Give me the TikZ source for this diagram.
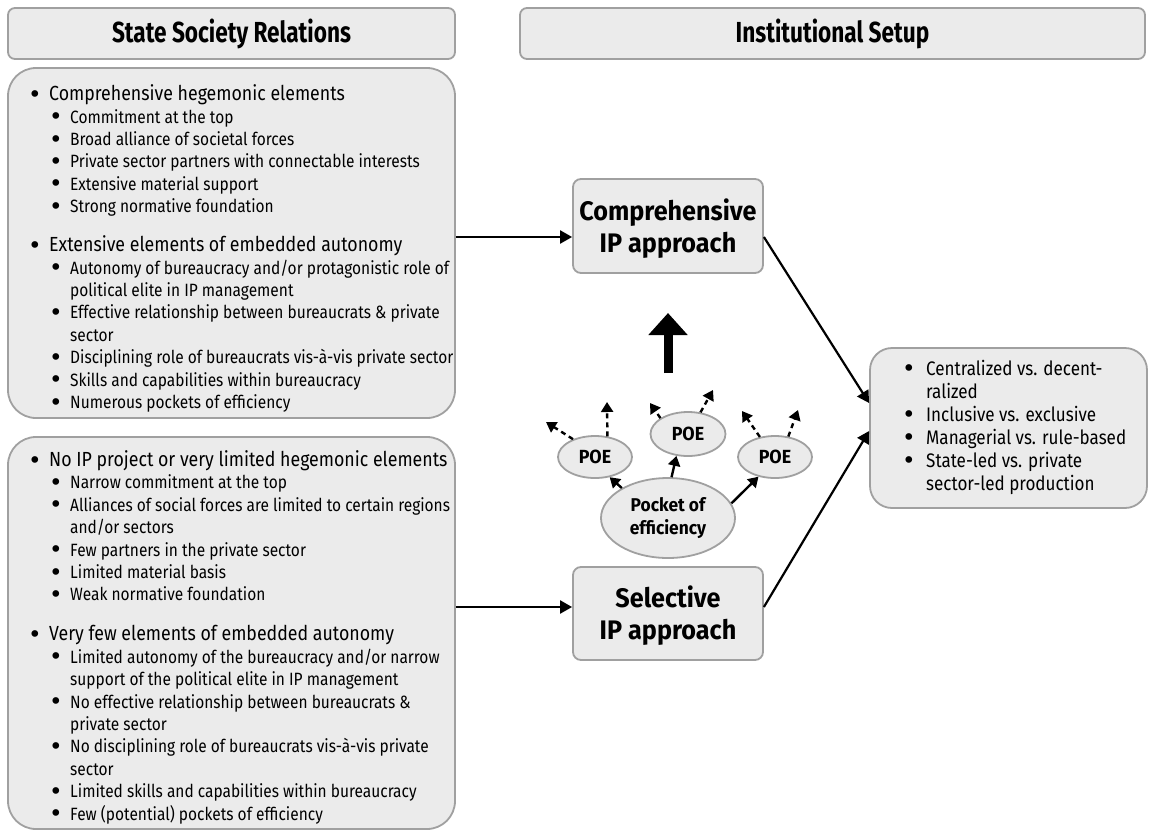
\documentclass[tikz,border=0pt]{standalone}
\usepackage{fontspec}
\setmainfont{Fira Sans}[FakeStretch=0.87]
\newfontfamily\hdfont{Fira Sans}[FakeStretch=0.78]
\newfontfamily\apfont{Fira Sans}[FakeStretch=0.94]
\newfontfamily\bulfont{DejaVu Sans}
\usetikzlibrary{arrows.meta,shapes.geometric}
\definecolor{boxfill}{HTML}{EBEBEB}
\definecolor{boxline}{HTML}{A0A0A0}

% list lines: first level, second level, continuation of a second-level item
\newcommand\blt{\raisebox{-1.6pt}{\bulfont\fontsize{23}{22.4}\selectfont •}}
\newcommand\lvla[1]{\makebox[21pt][l]{\blt}{\fontsize{20.4}{22.4}\selectfont #1}}
\newcommand\lvlb[1]{\hspace*{21pt}\makebox[21pt][l]{\blt}#1}
\newcommand\lvlc[1]{\hspace*{42pt}#1}
\newcommand\ibit[1]{\makebox[24pt][l]{\blt}#1}
\newcommand\ibcont[1]{\hspace*{24pt}#1}

\begin{document}
\begin{tikzpicture}[x=1pt,y=-1pt,
  panel/.style={draw=boxline, fill=boxfill, line width=1.8pt, inner sep=0pt},
  header/.style={panel, rounded corners=7pt, minimum height=51pt,
                 font=\hdfont\fontsize{29}{32}\selectfont\bfseries},
  approach/.style={panel, rounded corners=8pt, minimum width=190pt,
                 align=center, font=\apfont\fontsize{26.8}{32}\selectfont\bfseries},
  % multi-line lists are placed by the baseline of their last line
  listtext/.style={anchor=base west, inner sep=0pt, align=left,
                 font=\fontsize{17.8}{22.4}\selectfont},
  blob/.style={panel, ellipse, align=center, font=\apfont\bfseries},
  conn/.style={line width=2.2pt, -{Triangle[length=12pt,width=13pt]}},
  poearrow/.style={line width=2.4pt, -{Triangle[length=10pt,width=12pt]}},
  dasharr/.style={line width=2.4pt, dash pattern=on 5pt off 4pt,
                 -{Triangle[length=10pt,width=12pt]}},
  bigarrow/.style={line width=9pt, -{Triangle[length=22pt,width=38pt]}}]
\useasboundingbox (0,0) rectangle (1152,831);

% column headers
\node[header, minimum width=447pt] (hdl) at (231.5,33.5) {State Society Relations};
\node[header, minimum width=625pt] (hdr) at (832.5,33.5) {Institutional Setup};

% left panels
\node[panel, rounded corners=28pt, minimum width=447pt, minimum height=350pt] (ssrA) at (231.5,243) {};
\node[panel, rounded corners=28pt, minimum width=447pt, minimum height=392pt] (ssrB) at (231.5,633) {};

\node[listtext] (ssrAtext) at (28,408.5) {%
\lvla{Comprehensive hegemonic elements}\\
\lvlb{Commitment at the top}\\
\lvlb{Broad alliance of societal forces}\\
\lvlb{Private sector partners with connectable interests}\\
\lvlb{Extensive material support}\\
\lvlb{Strong normative foundation}\\[16.6pt]
\lvla{Extensive elements of embedded autonomy}\\
\lvlb{Autonomy of bureaucracy and/or protagonistic role of}\\
\lvlc{political elite in IP management}\\
\lvlb{Effective relationship between bureaucrats \& private}\\
\lvlc{sector}\\
\lvlb{Disciplining role of bureaucrats vis-à-vis private sector}\\
\lvlb{Skills and capabilities within bureaucracy}\\
\lvlb{Numerous pockets of efficiency}};

\node[listtext] (ssrBtext) at (28,820.1) {%
\lvla{No IP project or very limited hegemonic elements}\\
\lvlb{Narrow commitment at the top}\\
\lvlb{Alliances of social forces are limited to certain regions}\\
\lvlc{and/or sectors}\\
\lvlb{Few partners in the private sector}\\
\lvlb{Limited material basis}\\
\lvlb{Weak normative foundation}\\[17.6pt]
\lvla{Very few elements of embedded autonomy}\\
\lvlb{Limited autonomy of the bureaucracy and/or narrow}\\
\lvlc{support of the political elite in IP management}\\
\lvlb{No effective relationship between bureaucrats \&}\\
\lvlc{private sector}\\
\lvlb{No disciplining role of bureaucrats vis-à-vis private}\\
\lvlc{sector}\\
\lvlb{Limited skills and capabilities within bureaucracy}\\
\lvlb{Few (potential) pockets of efficiency}};

% approaches (the strut lowers the two lines a little inside the box)
\node[approach, minimum height=94pt] (cmp) at (668,226) {\rule{0pt}{27pt}Comprehensive\\IP approach};
\node[approach, minimum height=93pt] (sel) at (668,613.5) {\rule{0pt}{26pt}Selective\\IP approach};

% institutional setup dimensions
\node[panel, rounded corners=22pt, minimum width=277pt, minimum height=160pt] (ib) at (1008.5,428) {};
\node[listtext, font=\fontsize{19.6}{23}\selectfont] (ibtext) at (902,490) {%
\ibit{Centralized vs. decent-}\\
\ibcont{ralized}\\
\ibit{Inclusive vs. exclusive}\\
\ibit{Managerial vs. rule-based}\\
\ibit{State-led vs. private}\\
\ibcont{sector-led production}};

% pockets of efficiency
\node[blob, minimum width=134pt, minimum height=80pt,
      font=\apfont\fontsize{18.5}{23}\selectfont\bfseries] (pe) at (668,518) {Pocket of\\efficiency};
\node[blob, minimum width=74pt, minimum height=42pt,
      font=\apfont\fontsize{19}{22}\selectfont\bfseries] (poeL) at (595,457) {POE};
\node[blob, minimum width=75pt, minimum height=44pt,
      font=\apfont\fontsize{19}{22}\selectfont\bfseries] (poeM) at (688,434) {POE};
\node[blob, minimum width=74pt, minimum height=42pt,
      font=\apfont\fontsize{19}{22}\selectfont\bfseries] (poeR) at (775,457) {POE};

% main flows
\draw[conn] (ssrA.east |- 0,237) -- (cmp.west |- 0,237);
\draw[conn] (ssrB.east |- 0,607) -- (sel.west |- 0,607);
\draw[conn] (cmp.east |- 0,237) -- (ib.west |- 0,403);
\draw[conn] (sel.east |- 0,607) -- (ib.west |- 0,431);

% spreading pockets
\draw[poearrow] (pe.147) -- (poeL.-54);
\draw[poearrow] (pe.85) -- (poeM.-118);
\draw[poearrow] (pe.13) -- (poeR.-130);

\coordinate (tL1) at (546,422);
\coordinate (tL2) at (607,402);
\coordinate (tM1) at (650,403);
\coordinate (tM2) at (713,390);
\coordinate (tR1) at (742,411);
\coordinate (tR2) at (798,410);
\draw[dasharr] (poeL.141) -- (tL1);
\draw[dasharr] (poeL.59) -- (tL2);
\draw[dasharr] (poeM.150) -- (tM1);
\draw[dasharr] (poeM.60) -- (tM2);
\draw[dasharr] (poeR.127) -- (tR1);
\draw[dasharr] (poeR.57) -- (tR2);

% upward push
\coordinate (bigT) at (668,373);
\coordinate (bigH) at (668,313);
\draw[bigarrow] (bigT) -- (bigH);
\end{tikzpicture}
\end{document}
